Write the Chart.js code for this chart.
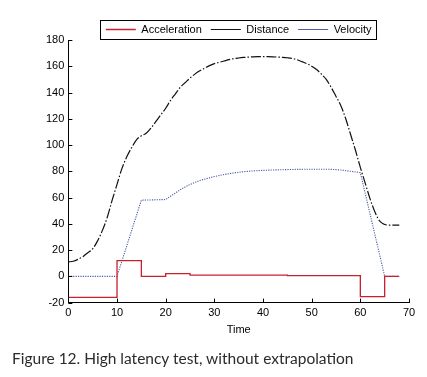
<!DOCTYPE html>
<html>
<head>
<meta charset="utf-8">
<script src="https://cdn.jsdelivr.net/npm/chart.js@4.4.1/dist/chart.umd.min.js"></script>
<style>
  html, body { margin: 0; padding: 0; background: #fff; }
  #wrap { position: relative; width: 427px; height: 377px; }
  #caption {
    position: absolute; left: 12px; top: 349px;
    font-family: Lato, "Open Sans", sans-serif; font-size: 15.5px; color: #2b2b2b;
    white-space: nowrap;
  }
</style>
</head>
<body>
<div id="wrap">
  <canvas id="latencyChart" width="427" height="377"></canvas>
  <div id="caption">Figure 12. High latency test, without extrapolation</div>
</div>
<script>
// Acceleration is a step signal: each value holds until the next time
const accelTime   = [0, 10, 15, 20, 25, 45, 60, 65, 68];
const accelValues = [-16, 12, 0, 2, 1, 0.5, -15.5, 0, 0];

const distTime = [0, 1, 2, 3, 4, 5, 6, 7, 8, 9, 10, 11, 12, 13, 14, 15, 16, 17, 18, 19,
    20, 21, 22, 23, 24, 25, 26, 27, 28, 29, 30, 31, 32, 33, 34, 35, 36, 37, 38, 39,
    40, 41, 42, 43, 44, 45, 46, 47, 48, 49, 50, 51, 52, 53, 54, 55, 56, 57, 58, 59,
    60, 61, 62, 63, 64, 65, 66, 67, 68];
const distValues = [11, 11.5, 13, 15, 18, 21, 27, 35, 45, 58, 70, 82, 91, 98, 104, 107, 109, 113, 118, 123,
    128, 134, 139, 144, 147.5, 151, 154, 156.5, 158.5, 160.5, 162, 163, 164, 165, 165.8, 166.3, 166.7, 167, 167.2, 167.3,
    167.3, 167.3, 167.2, 167, 166.8, 166.5, 166, 165, 163.5, 162, 160, 157.5, 154, 150, 144, 137, 130, 120, 108, 96,
    83, 71, 59, 49, 42, 39.5, 39, 39, 39];

const velTime   = [0, 10, 15, 20, 21, 22, 23, 24, 25, 26, 27, 28, 29, 30, 32, 34, 36, 38, 40, 42, 44, 46, 48, 50, 52, 54, 56, 58, 60, 65, 68];
const velValues = [0, 0, 58, 58.5, 61, 63.5, 66, 68, 70, 71.5, 73, 74, 75, 76, 77.5, 78.8, 79.7, 80.3, 80.7, 81, 81.2, 81.4, 81.5, 81.6, 81.6, 81.5, 81, 80, 79, 0, 0];

const xTicks = [0, 10, 20, 30, 40, 50, 60, 70];

const axisFont = { family: '"Liberation Sans", Arial, sans-serif', size: 11 };

function toPoints(xs, ys) {
    return xs.map((x, i) => ({ x: x, y: ys[i] }));
}

// matlab style: short tick marks pointing into the plot, no grid
const inwardTicks = {
    id: 'inwardTicks',
    afterDatasetsDraw(chart) {
        const ctx = chart.ctx;
        const area = chart.chartArea;
        const xs = chart.scales.x, ys = chart.scales.y;
        ctx.save();
        ctx.strokeStyle = '#000';
        ctx.lineWidth = 1;
        ctx.beginPath();
        xs.ticks.forEach(t => {
            const px = Math.round(xs.getPixelForValue(t.value)) + 0.5;
            ctx.moveTo(px, area.bottom);
            ctx.lineTo(px, area.bottom - 4);
        });
        ys.ticks.forEach(t => {
            const py = Math.round(ys.getPixelForValue(t.value)) + 0.5;
            ctx.moveTo(area.left, py);
            ctx.lineTo(area.left + 4, py);
        });
        ctx.stroke();
        ctx.restore();
    }
};

// frame round the legend like the matlab figure
const legendFrame = {
    id: 'legendFrame',
    afterDraw(chart) {
        const boxes = chart.legend && chart.legend.legendHitBoxes;
        if (!boxes || !boxes.length) return;
        let l = Infinity, r = -Infinity, t = Infinity, b = -Infinity;
        boxes.forEach(h => {
            l = Math.min(l, h.left); r = Math.max(r, h.left + h.width);
            t = Math.min(t, h.top); b = Math.max(b, h.top + h.height);
        });
        const ctx = chart.ctx;
        ctx.save();
        ctx.strokeStyle = '#000';
        ctx.lineWidth = 1;
        ctx.strokeRect(Math.round(l - 6) + 0.5, Math.round(t - 4) + 0.5, Math.round(r - l + 10), Math.round(b - t + 8));
        ctx.restore();
    }
};

const ctx = document.getElementById('latencyChart').getContext('2d');
new Chart(ctx, {
    type: 'line',
    data: {
        datasets: [{
            label: 'Acceleration',
            data: toPoints(accelTime, accelValues),
            borderColor: '#c8202c',
            backgroundColor: '#c8202c',
            borderWidth: 1.3,
            stepped: true,
            pointRadius: 0
        }, {
            label: 'Distance',
            data: toPoints(distTime, distValues),
            borderColor: '#111',
            backgroundColor: '#111',
            borderWidth: 1.2,
            borderDash: [10, 2, 1.5, 2],
            cubicInterpolationMode: 'monotone',
            pointRadius: 0
        }, {
            label: 'Velocity',
            data: toPoints(velTime, velValues),
            borderColor: '#4c5aa8',
            backgroundColor: '#4c5aa8',
            borderWidth: 1.1,
            borderDash: [1.2, 1.2],
            pointRadius: 0
        }]
    },
    options: {
        responsive: false,
        animation: false,
        layout: {
            padding: { left: 42, right: 18, top: 15, bottom: 40 }
        },
        plugins: {
            legend: {
                display: true,
                position: 'top',
                fullSize: false,
                maxHeight: 25,
                labels: {
                    usePointStyle: true,
                    pointStyle: 'line',
                    pointStyleWidth: 30,
                    color: '#000',
                    padding: 9,
                    font: axisFont
                }
            },
            tooltip: { enabled: false }
        },
        scales: {
            x: {
                type: 'linear',
                min: 0,
                max: 70,
                afterBuildTicks: axis => { axis.ticks = xTicks.map(v => ({ value: v })); },
                grid: { display: false, drawTicks: false },
                border: { display: true, color: '#000', width: 1 },
                ticks: {
                    color: '#000',
                    padding: 4,
                    maxRotation: 0,
                    font: axisFont
                },
                title: {
                    display: true,
                    text: 'Time',
                    color: '#000',
                    padding: { top: 0, bottom: 0 },
                    font: axisFont
                }
            },
            y: {
                min: -20,
                max: 180,
                ticks: {
                    stepSize: 20,
                    color: '#000',
                    padding: 4,
                    font: axisFont
                },
                grid: { display: false, drawTicks: false },
                border: { display: true, color: '#000', width: 1 }
            }
        }
    },
    plugins: [inwardTicks, legendFrame]
});
</script>
</body>
</html>
